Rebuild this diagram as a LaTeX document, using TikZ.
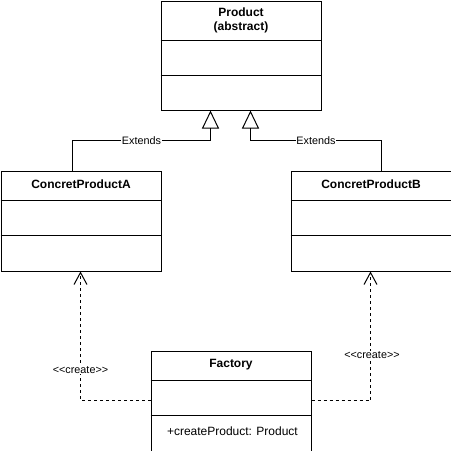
\documentclass[tikz,border=0pt]{standalone}
\usepackage{fontspec}
\setmainfont{Liberation Sans}
\usetikzlibrary{arrows.meta,calc}
\begin{document}
\begin{tikzpicture}[x=1pt,y=-1pt,line width=1pt,
  classbox/.style={draw,rectangle,anchor=north west,minimum width=160pt,inner sep=0pt},
  ttl/.style={font=\fontsize{12}{14}\selectfont\bfseries,align=center,inner sep=0pt},
  member/.style={font=\fontsize{12}{14}\selectfont,anchor=west,inner sep=0pt},
  lbl/.style={font=\fontsize{10.8}{13}\selectfont,fill=white,inner sep=0.5pt},
  inherit/.style={-{Triangle[open,width=17pt,length=18pt]}},
  create/.style={dashed,dash pattern=on 3pt off 3pt,-{Straight Barb[length=12pt,width=13pt]}}]
\useasboundingbox (0,0) rectangle (451,451);
% Product
\node[classbox,minimum height=109pt] (prod) at (160.5,0.5) {};
\draw ($(prod.north west)+(0,40)$) coordinate (p1) -- (p1 -| prod.east);
\draw ($(prod.north west)+(0,75)$) coordinate (p2) -- (p2 -| prod.east);
\node[ttl] (prodt) at ($(prod.north)+(0,20)$) {Product\\(abstract)};
% ConcretProductA
\node[classbox,minimum height=100pt] (ca) at (0.5,170.5) {};
\draw ($(ca.north west)+(0,30)$) coordinate (a1) -- (a1 -| ca.east);
\draw ($(ca.north west)+(0,65)$) coordinate (a2) -- (a2 -| ca.east);
\node[ttl] (cat) at ($(ca.north)+(0,14)$) {ConcretProductA};
% ConcretProductB
\node[classbox,minimum height=100pt] (cb) at (290.5,170.5) {};
\draw ($(cb.north west)+(0,30)$) coordinate (b1) -- (b1 -| cb.east);
\draw ($(cb.north west)+(0,65)$) coordinate (b2) -- (b2 -| cb.east);
\node[ttl] (cbt) at ($(cb.north)+(0,14)$) {ConcretProductB};
% Factory
\node[classbox,minimum height=100pt] (fa) at (150.5,350.5) {};
\draw ($(fa.north west)+(0,30)$) coordinate (f1) -- (f1 -| fa.east);
\draw ($(fa.north west)+(0,65)$) coordinate (f2) -- (f2 -| fa.east);
\node[ttl] (fat) at ($(fa.north)+(0,14)$) {Factory};
\node[member] (fam) at ($(fa.north west)+(16,81)$) {+createProduct: Product};
% Extends connectors
\coordinate (pa) at ($(prod.south west)+(50,0)$);
\coordinate (pb) at ($(prod.south west)+(90,0)$);
\coordinate (ta) at ($(ca.north west)+(72,0)$);
\coordinate (tb) at ($(cb.north west)+(91,0)$);
\draw[inherit] (ta) |- node[pos=0.75,lbl] {Extends} (pa |- 0,140.5) -- (pa);
\draw[inherit] (tb) |- node[pos=0.75,lbl] {Extends} (pb |- 0,140.5) -- (pb);
% create connectors
\coordinate (fl) at ($(fa.north west)+(0,50)$);
\coordinate (fr) at ($(fa.north east)+(0,50)$);
\coordinate (ba) at ($(ca.south west)+(80,0)$);
\coordinate (bb) at ($(cb.south west)+(80,0)$);
\draw[create] (fl) -| (ba);
\draw[create] (fr) -| (bb);
\node[lbl] (cl) at (80.5,370) {<\kern0pt<create>\kern0pt>};
\node[lbl] (cr) at (372,355.5) {<\kern0pt<create>\kern0pt>};
\end{tikzpicture}
\end{document}
